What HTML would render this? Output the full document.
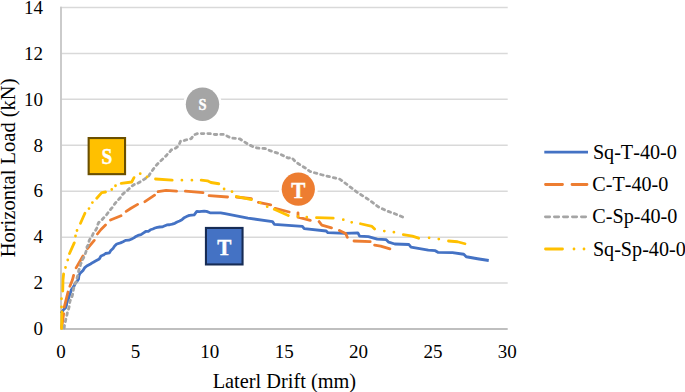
<!DOCTYPE html>
<html><head><meta charset="utf-8">
<style>
html,body{margin:0;padding:0;background:#fff;}
body{width:685px;height:392px;overflow:hidden;}
svg{display:block;}
text{font-family:"Liberation Serif",serif;fill:#000;}
.t{font-size:19px;}
.g{stroke:#d9d9d9;stroke-width:1.5;fill:none;}
.c{fill:none;stroke-width:2.8;stroke-linejoin:round;}
.m{fill:#fff;font-weight:bold;stroke:#fff;stroke-width:0.4;}
</style></head><body>
<svg width="685" height="392" viewBox="0 0 685 392">
<rect width="685" height="392" fill="#fff"/>
<g class="g">
<line x1="60.2" y1="283.07" x2="507.7" y2="283.07"/>
<line x1="60.2" y1="237.14" x2="507.7" y2="237.14"/>
<line x1="60.2" y1="191.21" x2="507.7" y2="191.21"/>
<line x1="60.2" y1="145.29" x2="507.7" y2="145.29"/>
<line x1="60.2" y1="99.36" x2="507.7" y2="99.36"/>
<line x1="60.2" y1="53.43" x2="507.7" y2="53.43"/>
<line x1="60.2" y1="7.50" x2="507.7" y2="7.50"/>
<line x1="60.1" y1="329" x2="507.7" y2="329" stroke="#bfbfbf" stroke-width="2"/>
<line x1="61" y1="6.8" x2="61" y2="330" stroke="#c9c9c9" stroke-width="1.9"/>
</g>
<g class="t" text-anchor="end">
<text x="43" y="335.0">0</text>
<text x="43" y="289.1">2</text>
<text x="43" y="243.3">4</text>
<text x="43" y="197.4">6</text>
<text x="43" y="151.6">8</text>
<text x="43" y="105.7">10</text>
<text x="43" y="59.9">12</text>
<text x="43" y="14.0">14</text>
</g>
<g class="t" text-anchor="middle">
<text x="61.1" y="358.4">0</text>
<text x="135.5" y="358.4">5</text>
<text x="209.8" y="358.4">10</text>
<text x="284.2" y="358.4">15</text>
<text x="358.6" y="358.4">20</text>
<text x="432.9" y="358.4">25</text>
<text x="507.3" y="358.4">30</text>
</g>
<text x="284.4" y="388" text-anchor="middle" font-size="20.35">Laterl Drift (mm)</text>
<text transform="translate(14.5,167.9) rotate(-90)" text-anchor="middle" font-size="20.5">Horizontal Load (kN)</text>
<path class="c" stroke="#4472c4" d="M61,313.2 L62.35,311.34 L63.71,309.48 L65.5,308 L66.49,305.38 L66.72,302.53 L68,300 L68.87,297.51 L69.53,294.95 L70.5,292.5 L71.32,289.78 L73,287.5 L74.41,285.38 L75.38,282.97 L77.14,281.08 L78.6,279 L78.79,276.14 L79.9,273.5 L83,270.4 L84.53,267.91 L86.75,266 L90.5,264 L92.96,262.43 L95.5,261 L99.25,259 L101,256 L103.42,255.06 L105.5,253.5 L109.25,252.9 L110.81,250.43 L113,248.5 L114.64,246.06 L116.75,244 L120.5,242.9 L123.06,241.78 L125.5,240.4 L128.73,240.18 L131.75,239 L133.88,237.87 L135.86,236.5 L138,235.4 L141.01,234.63 L143.6,232.9 L145.71,231.47 L148.35,231.31 L150.41,229.76 L152.8,229 L155,228.02 L157.29,227.39 L159.65,227 L162.09,226.94 L164.3,226 L166.84,224.98 L169.57,224.74 L172.21,224.12 L174.8,223.3 L177.1,222.01 L179.56,221.01 L181.9,219.8 L184.23,217.65 L187.1,216.3 L189.37,215.36 L191.77,215.05 L194.2,214.9 L196.8,211.4 L199.23,211.6 L201.65,211.32 L204.07,211.2 L206.5,211.4 L210,212.8 L220.6,212.8 L225,213.7 L247.9,218.1 L272.5,221.6 L274.3,224.3 L302.4,226.4 L304.2,228.7 L326.2,231 L327.9,232.7 L345,233.3 L357.9,232.9 L359.6,236.1 L368.4,236.6 L377.2,239.1 L386,239.6 L388.7,242.2 L394.8,244 L408.9,244.5 L411,247.2 L428.3,250.2 L435.3,250.7 L437.9,252.3 L452.5,252.7 L463.75,254.25 L466.25,256.75 L477.5,258.75 L488.75,260.5"/>
<path class="c" stroke="#ed7d31" stroke-linecap="round" d="M61.75,327.5 L63.6,313.75 M64.25,307 L68,292 M69.9,286.25 L72.4,280 L73.6,275.4 M76.1,267.9 L83,256 M87.4,248.5 L94.25,240.4 M97.4,234 L101,229.5 L105.5,225 M110.5,220 L121,215.8 M126.2,211.4 L131,208.25 L137.6,204.4 M144.9,201.7 L154.6,195.2 M158.1,191.7 L166,190.3 L176.6,191.1 M185.4,191.1 L203,192.6 M209.1,195.7 L227.6,197 M236.4,197 L251.4,198.75 M258.4,202.3 L270.7,204.9 M275.1,208.4 L289.2,212 M298,212.8 L298,217.2 L310.3,220.4 M319.1,221.6 L321.8,225.1 L331.5,227.8 M339.4,230.4 L345.6,233.4 L347.3,237.3 M354,241 L370.2,241.7 M374.6,245.2 L380.7,246.1 L389.9,248.9"/>
<path class="c" stroke="#a5a5a5" stroke-linecap="round" stroke-dasharray="2.5 4" d="M64.25,328 L64.43,325.63 L65.12,323.34 L65.5,321 L66.02,318.14 L66.86,315.35 L67.4,312.5 L68.43,309.41 L69.25,306.25 L69.45,303.66 L69.99,301.15 L71,298.75 L72.29,295.72 L73,292.5 L73.41,289.33 L74.25,286.25 L74.86,283.92 L76.33,281.9 L76.75,279.5 L77.34,276.66 L78.28,273.9 L78.6,271 L79.34,268.74 L80.24,266.54 L80.58,264.15 L81.75,262.04 L82.4,259.75 L83.6,257.85 L84.22,255.68 L85.3,253.73 L86,251.6 L86.8,249.4 L86.92,247.01 L88.17,244.94 L88.68,242.66 L89.25,240.4 L90.67,237.8 L92.4,235.4 L93.59,232.72 L95.5,230.5 L96.84,227.99 L97.54,225.22 L98.6,222.6 L100.37,221.12 L102.1,219.6 L103.63,217.88 L105.39,216.39 L106.75,214.5 L108.55,211.94 L110.5,209.5 L112.59,207.16 L114.25,204.5 L116.09,202.22 L118,200 L119.77,198.41 L121.2,196.55 L122.4,194.5 L124.36,192.65 L126.75,191.4 L128.39,189.27 L130.5,187.6 L132.21,185.85 L134.25,184.5 L137.24,183.63 L139.9,182 L142.13,180.45 L144.5,179.1 L146.7,177.5 L148.75,176 L150.22,173.4 L152,171 L153.51,168.88 L155,166.75 L156.79,164.76 L158.64,162.82 L160.6,161 L162.75,159.02 L164.85,156.99 L166.9,154.9 L168,153 L169.88,151.71 L171.25,149.9 L173.41,149 L175.59,148.14 L177.5,146.75 L179.33,144.03 L180.6,141 L182.99,140.93 L185.23,140.15 L187.5,139.5 L191.25,138.6 L193.75,134.9 L197.5,133.6 L210,133.6 L215,134.5 L224.4,134.4 L227.5,136.25 L231.25,138.1 L236.25,138.4 L240,139 L244.4,141.9 L248.75,144.6 L255,147.5 L260,148.4 L265,148.5 L270,150.6 L275,152.25 L280,154 L284.4,156.25 L288.1,158.1 L291.9,157.75 L295.6,161.9 L301.25,165.6 L305.6,168.1 L310,171.5 L322.5,175 L340,179.25 L346,183.75 L357.5,192.5 L369.3,200 L378.1,206.7 L386,210.6 L394.8,213.7 L404,217.6"/>
<path class="c" stroke="#ffc000" stroke-linecap="round" d="M61.6,328.5 L61.9,312 M61.5,307l0.01,0 M61.5,298.75l0.01,0 M62.75,291 L63,280 L63.6,274 M65.5,267.5l0.01,0 M67.75,260l0.01,0 M69.5,253.5 L74.25,242.9 M75.5,236l0.01,0 M77,230.5l0.01,0 M80.5,223.25 L84.9,213.25 M89,208.6l0.01,0 M92.4,202.6l0.01,0 M96.75,198.25 L101.75,192.6 L105.5,192 M111.75,189.5l0.01,0 M115.5,185.75l0.01,0 M121.2,183.4 L131.7,182 L134,177.6 M140.2,173.7l0.01,0 M147,177l0.01,0 M155.5,179 L172.2,180.2 M181.9,180.2l0.01,0 M191.9,180.2l0.01,0 M201.2,180.2 L207.4,180.8 L210.9,182.5 L218.8,183.75 M224.1,189l0.01,0 M232,191.7l0.01,0 M236.4,196.5 L251.4,199.6 M260.2,202.8l0.01,0 M267.2,206.7l0.01,0 M274.3,209.3 L288.3,215.5 M298,216.4l0.01,0 M306.8,217.2l0.01,0 M316.5,217.6 L333.2,218.1 M343.3,219.7l0.01,0 M351.7,222.3l0.01,0 M360.5,223.75 L372,226.4 L374.6,229 M384.3,231.1l0.01,0 M393.9,232.2l0.01,0 M403.3,234.7 L412.4,236.1 L418.6,238.2 M429.1,237.8l0.01,0 M438.8,239.1l0.01,0 M448.5,241 L457.5,241.75 L465,243.75"/>
<circle cx="202.5" cy="104.3" r="19.3" fill="#fff"/>
<circle cx="202.5" cy="104.3" r="16.7" fill="#a5a5a5"/>
<text class="m" transform="translate(202.5,110) scale(0.93,1.05)" text-anchor="middle" font-size="15.5">S</text>
<circle cx="298.3" cy="189.2" r="19.5" fill="#fff"/>
<circle cx="298.3" cy="189.2" r="16.6" fill="#ed7d31"/>
<text class="m" transform="translate(298.3,197.7) scale(1,1.12)" text-anchor="middle" font-size="21.2">T</text>
<rect x="88.65" y="138.05" width="36.4" height="36.1" fill="#ffc000" stroke="#6a4f00" stroke-width="2.1"/>
<text class="m" transform="translate(107,164.3) scale(0.9,1.04)" text-anchor="middle" font-size="21.5">S</text>
<rect x="205.95" y="227.95" width="36.6" height="36.5" fill="#4472c4" stroke="#172c55" stroke-width="2.1"/>
<text class="m" transform="translate(224.3,254.9) scale(1,1.12)" text-anchor="middle" font-size="21.2">T</text>
<g class="c">
<line x1="544.3" y1="152.2" x2="588" y2="152.2" stroke="#4472c4"/>
<path stroke="#ed7d31" stroke-linecap="round" d="M545.5,184.5H562.5 M572,184.5H587"/>
<line x1="545.4" y1="216.8" x2="588" y2="216.8" stroke="#a5a5a5" stroke-linecap="round" stroke-dasharray="4.3 4.7"/>
<path stroke="#ffc000" stroke-linecap="round" d="M545.5,249H562.5 M574,249h0.01 M584,249h0.01"/>
</g>
<g style="font-size:20.15px;font-kerning:none">
<text x="592.9" y="158.5">Sq-T-40-0</text>
<text x="592.3" y="191">C-T-40-0</text>
<text x="592.3" y="223">C-Sp-40-0</text>
<text x="592.9" y="255.5">Sq-Sp-40-0</text>
</g>
</svg>
</body></html>
